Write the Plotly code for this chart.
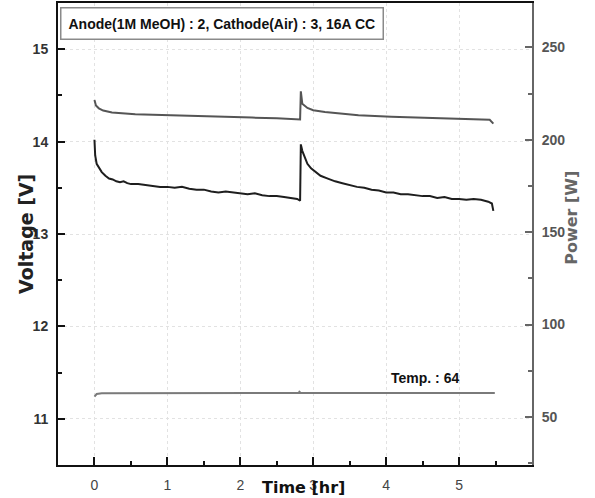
import plotly.graph_objects as go

# ---- data ----
volt_t = [0.00, 0.01, 0.03, 0.06, 0.10, 0.15, 0.20, 0.25, 0.30, 0.35, 0.40, 0.45, 0.50, 0.60, 0.70,
          0.80, 0.90, 1.00, 1.10, 1.20, 1.30, 1.40, 1.50, 1.60, 1.70, 1.80, 1.90, 2.00, 2.10, 2.20,
          2.30, 2.40, 2.50, 2.60, 2.70, 2.78, 2.82, 2.83, 2.85, 2.88, 2.92, 2.97, 3.03, 3.10, 3.20,
          3.30, 3.40, 3.50, 3.60, 3.70, 3.80, 3.90, 4.00, 4.10, 4.20, 4.30, 4.40, 4.50, 4.60, 4.70,
          4.80, 4.90, 5.00, 5.10, 5.20, 5.30, 5.40, 5.45, 5.47]
volt_v = [14.02, 13.85, 13.76, 13.72, 13.67, 13.63, 13.60, 13.59, 13.57, 13.56, 13.57, 13.55, 13.54, 13.54, 13.53,
          13.52, 13.51, 13.51, 13.50, 13.51, 13.49, 13.48, 13.48, 13.46, 13.45, 13.46, 13.45, 13.44, 13.43, 13.44,
          13.42, 13.41, 13.41, 13.40, 13.39, 13.38, 13.36, 13.97, 13.90, 13.83, 13.76, 13.71, 13.67, 13.63, 13.60,
          13.57, 13.55, 13.53, 13.51, 13.50, 13.48, 13.47, 13.45, 13.45, 13.43, 13.43, 13.42, 13.41, 13.41, 13.39,
          13.40, 13.38, 13.38, 13.37, 13.38, 13.37, 13.35, 13.33, 13.25]

power_t = [0.00, 0.02, 0.06, 0.12, 0.24, 0.40, 0.56, 0.80, 1.02, 1.40, 1.70, 2.16, 2.50, 2.75, 2.82,
           2.83, 2.85, 2.92, 3.00, 3.16, 3.40, 3.62, 4.07, 4.53, 4.98, 5.30, 5.42, 5.47]
power_w = [221.5, 218.5, 217.0, 215.8, 214.7, 214.1, 213.8, 213.5, 213.2, 212.8, 212.5, 212.0, 211.6, 211.1, 211.0,
           226.2, 219.5, 217.2, 216.0, 215.0, 214.0, 213.2, 212.5, 211.8, 211.4, 211.0, 210.8, 208.7]

temp_t = [0.00, 0.03, 0.10, 1.00, 2.00, 2.80, 2.81, 2.83, 4.00, 5.49]
temp_c = [61.0, 62.4, 62.8, 63.0, 63.0, 63.0, 63.6, 63.0, 63.0, 63.0]

x_ticks = [0, 1, 2, 3, 4, 5]
v_ticks = [11, 12, 13, 14, 15]
p_ticks = [50, 100, 150, 200, 250]

box_text = "Anode(1M MeOH) : 2, Cathode(Air) : 3, 16A CC"
temp_text = "Temp. : 64"

FONT = "Liberation Sans, Arial, sans-serif"
WIDE = "DejaVu Sans, sans-serif"

fig = go.Figure()
fig.add_trace(go.Scatter(x=power_t, y=power_w, mode="lines", yaxis="y2",
                         line=dict(color="#555555", width=2), showlegend=False))
fig.add_trace(go.Scatter(x=temp_t, y=temp_c, mode="lines", yaxis="y2",
                         line=dict(color="#7a7a7a", width=2), showlegend=False))
fig.add_trace(go.Scatter(x=volt_t, y=volt_v, mode="lines",
                         line=dict(color="#1e1e1e", width=2), showlegend=False))

fig.update_layout(
    width=595, height=498,
    margin=dict(l=58, r=63, t=1, b=33),
    paper_bgcolor="white", plot_bgcolor="white",
    font=dict(family=FONT),
    xaxis=dict(range=[-0.5, 6.0], tickvals=x_ticks, ticks="inside", ticklen=8, tickwidth=2,
               tickcolor="#111", showline=True, linecolor="#111", linewidth=2, mirror=True,
               showgrid=True, gridcolor="#e2e2e2", griddash="dot", gridwidth=1, zeroline=False,
               tickfont=dict(size=14, color="#444", family=FONT), ticklabelstandoff=6,
               minor=dict(dtick=0.5, tick0=0, ticks="inside", ticklen=4, tickwidth=2,
                          tickcolor="#111", showgrid=False)),
    yaxis=dict(range=[10.5, 15.5], tickvals=v_ticks, ticks="inside", ticklen=7, tickwidth=2,
               tickcolor="#111", showline=True, linecolor="#111", linewidth=2,
               showgrid=True, gridcolor="#e2e2e2", griddash="dot", gridwidth=1, zeroline=False,
               tickfont=dict(size=14, color="#333", family=FONT, weight="bold"), ticklabelstandoff=5,
               minor=dict(dtick=0.5, tick0=0, ticks="inside", ticklen=4, tickwidth=2,
                          tickcolor="#111", showgrid=False)),
    yaxis2=dict(range=[24, 274], tickvals=p_ticks, overlaying="y", side="right",
                ticks="inside", ticklen=7, tickwidth=2, tickcolor="#666",
                showline=True, linecolor="#666", linewidth=2, showgrid=False, zeroline=False,
                tickfont=dict(size=14, color="#555", family=FONT, weight="bold"), ticklabelstandoff=5,
                minor=dict(dtick=25, tick0=0, ticks="inside", ticklen=4, tickwidth=2,
                           tickcolor="#666", showgrid=False)),
)

fig.add_annotation(text=box_text, xref="paper", yref="paper", x=0.004, y=0.991,
                   xanchor="left", yanchor="top", showarrow=False,
                   font=dict(size=14, color="#111", family=FONT, weight="bold"),
                   bordercolor="#8a8a8a", borderwidth=1.5, borderpad=7, bgcolor="white")
fig.add_annotation(text=temp_text, xref="x", yref="y2", x=4.53, y=71.1,
                   showarrow=False, font=dict(size=14, color="#111", family=FONT, weight="bold"))
fig.add_annotation(text="Time [hr]", xref="paper", yref="paper", x=0.517, y=0, yanchor="middle",
                   yshift=-22, showarrow=False,
                   font=dict(size=16, color="#111", family=WIDE, weight="bold"))
fig.add_annotation(text="Voltage [V]", xref="paper", yref="paper", x=0, y=0.5, textangle=-90,
                   xshift=-45, showarrow=False,
                   font=dict(size=19, color="#222", family=WIDE, weight="bold"))
fig.add_annotation(text="Power [W]", xref="paper", yref="paper", x=1, y=0.534, textangle=-90,
                   xshift=51, showarrow=False,
                   font=dict(size=16, color="#666", family=WIDE, weight="bold"))

fig.write_html("out.html")
